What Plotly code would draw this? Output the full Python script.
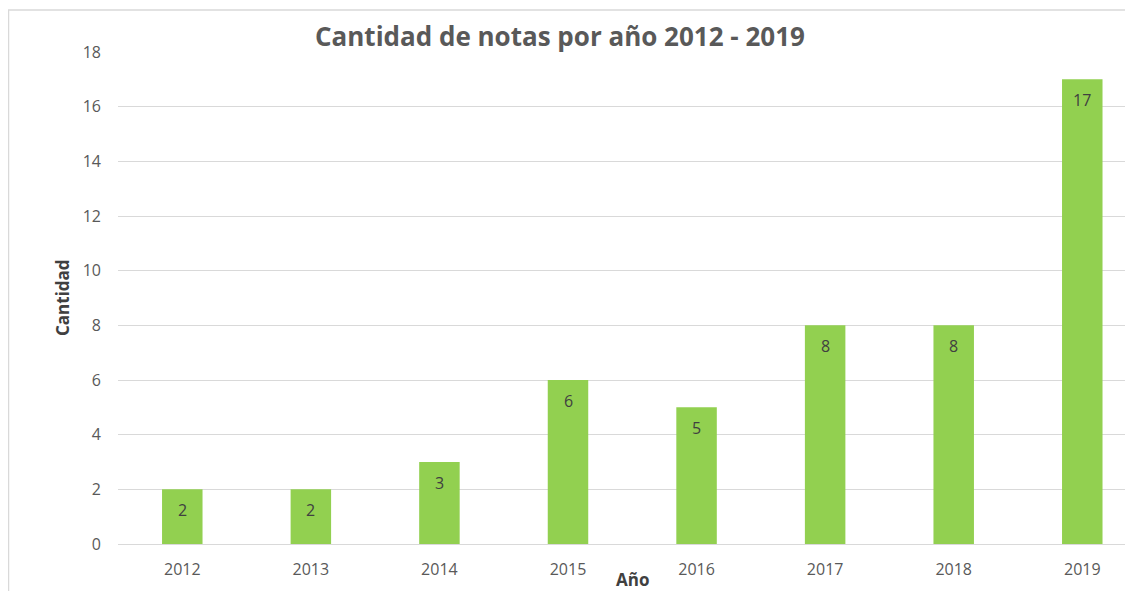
import plotly.graph_objects as go

years = ["2012", "2013", "2014", "2015", "2016", "2017", "2018", "2019"]
counts = [2, 2, 3, 6, 5, 8, 8, 17]
y_ticks = [0, 2, 4, 6, 8, 10, 12, 14, 16, 18]

OFF = 8  # page body margin
W, H = 1133 - OFF, 591 - OFF
L, R, T = 118 - OFF, 0, 52 - OFF
B = H - (544 - OFF)
PW = W - L - R
PH = H - T - B

def px(x):
    return (x - OFF - L) / PW

def py(y):
    return (H - B - (y - OFF)) / PH

xs = list(range(len(years)))

fig = go.Figure()
fig.add_trace(go.Bar(
    x=xs, y=counts,
    marker=dict(color="#92D050", line=dict(width=0)),
    width=0.315,
    hoverinfo="skip",
))

annotations = [
    dict(x=x, y=c, xref="x", yref="y", text=str(c), showarrow=False,
         yanchor="middle", xanchor="center", yshift=-21,
         font=dict(family="Open Sans", size=16, color="#404040"))
    for x, c in zip(xs, counts)
]
annotations += [
    dict(text="<b>Cantidad de notas por año 2012 - 2019</b>", x=px(560), y=py(36),
         xref="paper", yref="paper", showarrow=False, xanchor="center", yanchor="middle",
         font=dict(family="Open Sans", size=26, color="#595959")),
    dict(text="<b>Cantidad</b>", x=px(62), y=py(298), textangle=-90,
         xref="paper", yref="paper", showarrow=False, xanchor="center", yanchor="middle",
         font=dict(family="Open Sans", size=17, color="#404040")),
    dict(text="<b>Año</b>", x=px(632), y=py(579),
         xref="paper", yref="paper", showarrow=False, xanchor="center", yanchor="middle",
         font=dict(family="Open Sans", size=17, color="#404040")),
]

fig.update_layout(
    width=W, height=H,
    margin=dict(l=L, r=R, t=T, b=B),
    paper_bgcolor="white", plot_bgcolor="white",
    showlegend=False,
    xaxis=dict(
        tickmode="array", tickvals=xs, ticktext=years,
        range=[-0.5, -0.5 + PW / 128.57],
        showgrid=False, zeroline=False, showline=False,
        ticks="", ticklabelstandoff=14,
        tickfont=dict(family="Open Sans", size=16, color="#595959"),
    ),
    yaxis=dict(
        range=[0, 18], tickvals=y_ticks,
        showgrid=True, gridcolor="#d9d9d9", gridwidth=1,
        zeroline=True, zerolinecolor="#d9d9d9", zerolinewidth=1,
        showline=False, ticks="", ticklabelstandoff=16,
        tickfont=dict(family="Open Sans", size=16, color="#595959"),
    ),
    font=dict(family="Open Sans"),
    annotations=annotations,
    shapes=[
        dict(type="rect", xref="paper", yref="paper",
             x0=px(8.5), x1=px(1145), y0=py(600), y1=py(10),
             line=dict(color="#d9d9d9", width=1.5), fillcolor="rgba(0,0,0,0)", layer="below"),
    ],
)

fig.write_html("out.html")
